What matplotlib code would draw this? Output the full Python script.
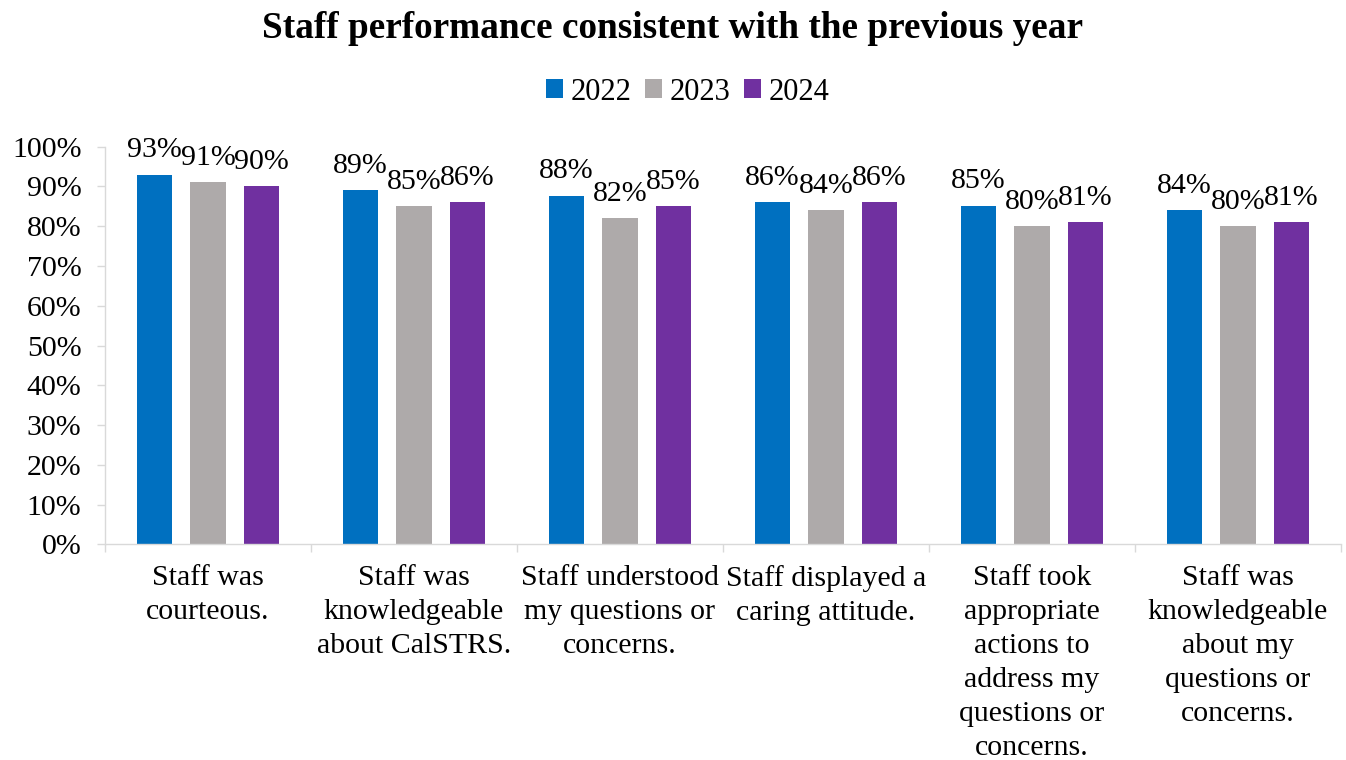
import matplotlib.pyplot as plt
import numpy as np

plt.rcParams['font.family'] = ['Liberation Serif', 'DejaVu Serif']

# data
categories = [
    'Staff was\ncourteous.',
    'Staff was\nknowledgeable\nabout CalSTRS.',
    'Staff understood\nmy questions or\nconcerns.',
    'Staff displayed a\ncaring attitude.',
    'Staff took\nappropriate\nactions to\naddress my\nquestions or\nconcerns.',
    'Staff was\nknowledgeable\nabout my\nquestions or\nconcerns.',
]
years = ['2022', '2023', '2024']
vals_2022 = [93, 89, 87.7, 86, 85.2, 84]
vals_2023 = [91, 85, 82, 84, 80, 80]
vals_2024 = [90, 86, 85, 86, 81, 81]
colors = ['#0070C0', '#AEAAAA', '#7030A0']

W, H = 1346, 760
fs = 21.5
fig = plt.figure(figsize=(W / 100, H / 100), dpi=100)
ax = fig.add_axes([105 / W, 1 - 544.3 / H, (1341 - 105) / W, (544.3 - 146.7) / H])

x = np.arange(len(categories))
bw = 0.173
off = 0.259
for i, (vals, yr, c) in enumerate(zip([vals_2022, vals_2023, vals_2024], years, colors)):
    bars = ax.bar(x + (i - 1) * off, vals, bw, color=c, label=yr)
    ax.bar_label(bars, labels=[f'{round(v)}%' for v in vals], padding=8, fontsize=fs)

ax.set_xlim(-0.5, len(categories) - 0.5)
ax.set_ylim(0, 100)
ax.set_yticks(np.arange(0, 101, 10))
ax.set_yticklabels([f'{v}%' for v in range(0, 101, 10)], fontsize=fs)

# group separators as major ticks, labels on minor ticks
ax.set_xticks(np.arange(-0.5, len(categories), 1.0))
ax.set_xticklabels([])
ax.set_xticks(x, minor=True)
ax.set_xticklabels(categories, minor=True, fontsize=fs, linespacing=1.40, va='top')
ax.tick_params(axis='x', which='minor', length=0, pad=15)
ax.tick_params(axis='x', which='major', length=6, color='#D9D9D9', width=1)
ax.tick_params(axis='y', length=6, color='#D9D9D9', width=1, pad=11)

for s in ['top', 'right']:
    ax.spines[s].set_visible(False)
for s in ['left', 'bottom']:
    ax.spines[s].set_color('#D9D9D9')
    ax.spines[s].set_linewidth(1)

fig.suptitle('Staff performance consistent with the previous year', fontsize=26.8,
             fontweight='bold', y=1 - 29 / H, va='center')
fig.legend(loc='center', bbox_to_anchor=(688 / W, 1 - 92 / H), ncol=3, frameon=False,
           fontsize=22, handlelength=0.55, handleheight=0.55, handletextpad=0.25,
           columnspacing=0.45)

fig.savefig('out.png', dpi=100)
